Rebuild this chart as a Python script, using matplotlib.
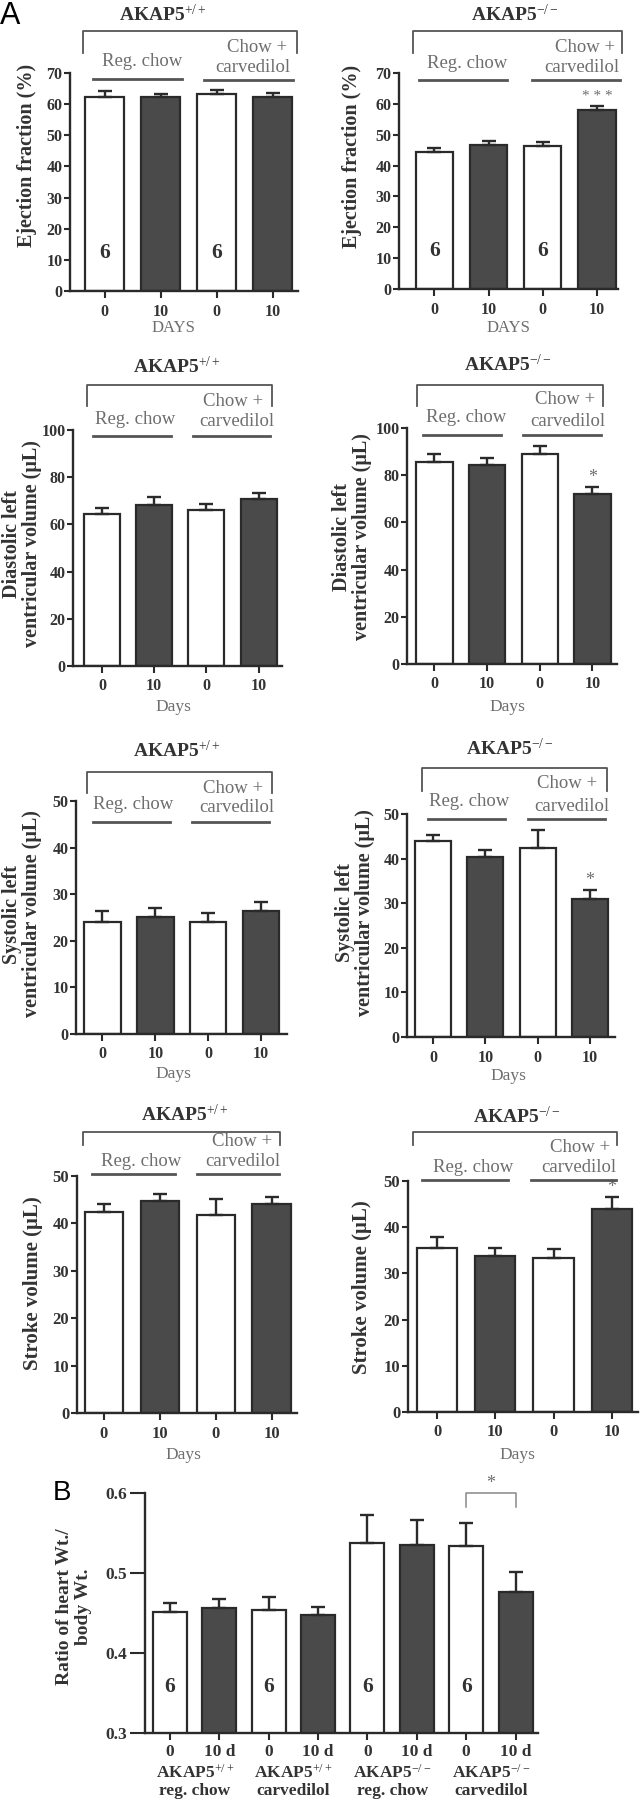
import matplotlib
matplotlib.use("Agg")
import matplotlib.pyplot as plt
from matplotlib.lines import Line2D
import numpy as np

plt.rcParams['font.family'] = ['Liberation Serif', 'DejaVu Serif']
plt.rcParams['mathtext.fontset'] = 'custom'
plt.rcParams['mathtext.rm'] = 'Liberation Serif'
plt.rcParams['mathtext.it'] = 'Liberation Serif:italic'
plt.rcParams['mathtext.bf'] = 'Liberation Serif:bold'

# ---- data ----
days = ['0', '10', '0', '10']

ef_wt = [62.4, 62.2, 63.2, 62.4]
ef_wt_err = [1.9, 1.1, 1.3, 1.2]
ef_ko = [44.5, 46.7, 46.3, 58.0]
ef_ko_err = [1.3, 1.2, 1.2, 1.3]

edv_wt = [64.2, 68.3, 66.3, 70.8]
edv_wt_err = [2.8, 3.2, 2.5, 2.6]
edv_ko = [85.4, 84.3, 88.8, 72.2]
edv_ko_err = [3.4, 3.0, 3.7, 2.8]

esv_wt = [24.0, 25.0, 24.0, 26.3]
esv_wt_err = [2.4, 2.0, 1.9, 2.1]
esv_ko = [43.9, 40.4, 42.4, 31.0]
esv_ko_err = [1.4, 1.5, 4.0, 1.9]

sv_wt = [42.3, 44.8, 41.8, 44.0]
sv_wt_err = [1.7, 1.5, 3.3, 1.5]
sv_ko = [35.4, 33.8, 33.3, 43.9]
sv_ko_err = [2.4, 1.8, 2.0, 2.6]

ratio = [0.451, 0.456, 0.454, 0.448, 0.538, 0.535, 0.534, 0.476]
ratio_err = [0.011, 0.011, 0.016, 0.009, 0.034, 0.031, 0.028, 0.025]
ratio_ticks = ['0', '10 d', '0', '10 d', '0', '10 d', '0', '10 d']
ratio_groups = ['AKAP5$^{+/+}$\nreg. chow', 'AKAP5$^{+/+}$\ncarvedilol',
                'AKAP5$^{-/-}$\nreg. chow', 'AKAP5$^{-/-}$\ncarvedilol']

WT = 'AKAP5$^{+/+}$'
KO = 'AKAP5$^{-/-}$'

# ---- style ----
W, H = 641, 1800
DARK = '#4a4a4a'
INK = '#2a2a2a'
GREY = '#6e6e6e'
bar_colors = ['white', DARK, 'white', DARK]

fig = plt.figure(figsize=(W / 100, H / 100), dpi=100)


def fx(x):
    return x / W


def fy(y):
    return 1 - y / H


def add_ax(x0, y0, x1, y1):
    return fig.add_axes([fx(x0), fy(y1), (x1 - x0) / W, (y1 - y0) / H])


def hline(x0, x1, y, lw=1.6, color=GREY):
    fig.add_artist(Line2D([fx(x0), fx(x1)], [fy(y), fy(y)], lw=lw, color=color))


def draw_bars(ax, means, errs, xlim, ylim, ystep, labels, colors, tick_size=11.5):
    x = np.arange(len(means))
    ax.bar(x, means, width=0.69, color=colors, edgecolor=INK, linewidth=1.6, zorder=2)
    ax.errorbar(x, means, yerr=[np.zeros(len(errs)), errs], fmt='none', ecolor=INK,
                elinewidth=1.7, capsize=5, capthick=1.7, zorder=3)
    ax.set_xlim(*xlim)
    ax.set_ylim(*ylim)
    ax.set_yticks(np.arange(ylim[0], ylim[1] + ystep / 2, ystep))
    ax.set_xticks(x)
    ax.set_xticklabels(labels)
    for s in ['top', 'right']:
        ax.spines[s].set_visible(False)
    for s in ['left', 'bottom']:
        ax.spines[s].set_linewidth(1.7)
        ax.spines[s].set_color(INK)
    ax.tick_params(axis='both', direction='out', width=1.5, color=INK,
                   labelsize=tick_size, labelcolor='#333333')
    ax.tick_params(axis='y', length=4, pad=1.5)
    ax.tick_params(axis='x', length=5, pad=4)
    for t in ax.get_xticklabels() + ax.get_yticklabels():
        t.set_fontweight('bold')
    return x


def header(d):
    fig.text(fx(d['title'][0]), fy(d['title'][1]), d['name'], ha='center', va='center',
             fontsize=14, fontweight='bold', color='#333333')
    bx0, bx1, bt, bb = d['bracket']
    fig.add_artist(Line2D([fx(bx0), fx(bx0), fx(bx1), fx(bx1)],
                          [fy(bb), fy(bt), fy(bt), fy(bb)], lw=1.3, color='#555555'))
    fig.text(fx(d['reg'][0]), fy(d['reg'][1]), 'Reg. chow', ha='center', va='center',
             fontsize=13.5, color=GREY)
    hline(*d['reg_line'], lw=2.0, color='#555555')
    fig.text(fx(d['chow'][0]), fy(d['chow'][1]), 'Chow +', ha='right', va='center',
             fontsize=13.5, color=GREY)
    fig.text(fx(d['carv'][0]), fy(d['carv'][1]), 'carvedilol', ha='center', va='center',
             fontsize=13.5, color=GREY)
    hline(*d['carv_line'], lw=2.0, color='#555555')
    fig.text(fx(d['xlab'][0]), fy(d['xlab'][1]), d['xlabel'], ha='center', va='center',
             fontsize=d.get('xsize', 12.5), color=GREY)
    fig.text(fx(d['ylab'][0]), fy(d['ylab'][1]), d['ylabel'], ha='center', va='center',
             rotation=90, fontsize=d.get('ysize', 14.5), fontweight='bold', color='#333333',
             linespacing=1.05, multialignment='center')


def star(ax, x, top, s, size=13):
    ax.annotate(s, (x, top), xytext=(0, 7), textcoords='offset points', ha='center',
                va='center', fontsize=size, color=GREY, annotation_clip=False)


def n_label(ax, xs, yfrac):
    for xi in xs:
        ax.text(xi, yfrac, '6', transform=ax.get_xaxis_transform(), ha='center',
                va='center', fontsize=15.5, fontweight='bold', color='#333333')


# ---- row 1: ejection fraction ----
ax = add_ax(70, 73, 298, 291)
draw_bars(ax, ef_wt, ef_wt_err, (-0.62, 3.455), (0, 70), 10, days, bar_colors)
n_label(ax, [0, 2], 0.175)
header(dict(name=WT, title=(163, 15), bracket=(83, 297, 31, 53), reg=(142, 62),
            reg_line=(93, 182, 79), chow=(287, 47), carv=(253, 68), carv_line=(204, 293, 80),
            xlabel='DAYS', xlab=(173, 328), xsize=12,
            ylabel='Ejection fraction (%)', ylab=(27, 155)))

ax = add_ax(399, 73, 618, 289)
draw_bars(ax, ef_ko, ef_ko_err, (-0.655, 3.39), (0, 70), 10, days, bar_colors)
n_label(ax, [0, 2], 0.175)
star(ax, 3, ef_ko[3] + ef_ko_err[3], '* * *', size=11)
header(dict(name=KO, title=(515, 15), bracket=(413, 622, 31, 53), reg=(467, 63),
            reg_line=(419, 507, 80), chow=(615, 47), carv=(582, 68), carv_line=(532, 620, 80),
            xlabel='DAYS', xlab=(508, 328), xsize=12,
            ylabel='Ejection fraction (%)', ylab=(352, 156)))

# ---- row 2: diastolic volume ----
ax = add_ax(73, 430, 282, 666)
draw_bars(ax, edv_wt, edv_wt_err, (-0.556, 3.45), (0, 100), 20, days, bar_colors)
header(dict(name=WT, title=(177, 367), bracket=(87, 272, 385, 406), reg=(135, 419),
            reg_line=(93, 171, 436), chow=(263, 401), carv=(237, 422), carv_line=(193, 270, 436),
            xlabel='Days', xlab=(173, 707),
            ylabel='Diastolic left\nventricular volume (μL)', ylab=(22, 544)))

ax = add_ax(407, 428, 617, 664)
draw_bars(ax, edv_ko, edv_ko_err, (-0.52, 3.465), (0, 100), 20, days, bar_colors)
star(ax, 3, edv_ko[3] + edv_ko_err[3], '*')
header(dict(name=KO, title=(508, 365), bracket=(417, 603, 385, 406), reg=(466, 418),
            reg_line=(423, 501, 435), chow=(595, 400), carv=(568, 421), carv_line=(523, 601, 435),
            xlabel='Days', xlab=(507, 707),
            ylabel='Diastolic left\nventricular volume (μL)', ylab=(352, 537)))

# ---- row 3: systolic volume ----
ax = add_ax(76, 801, 287, 1034)
draw_bars(ax, esv_wt, esv_wt_err, (-0.5, 3.49), (0, 50), 10, days, bar_colors)
header(dict(name=WT, title=(177, 751), bracket=(87, 272, 772, 793), reg=(133, 805),
            reg_line=(93, 170, 822), chow=(263, 788), carv=(237, 808), carv_line=(192, 269, 822),
            xlabel='Days', xlab=(173, 1074),
            ylabel='Systolic left\nventricular volume (μL)', ylab=(22, 914)))

ax = add_ax(407, 814, 615, 1037)
draw_bars(ax, esv_ko, esv_ko_err, (-0.5, 3.48), (0, 50), 10, days, bar_colors)
star(ax, 3, esv_ko[3] + esv_ko_err[3], '*')
header(dict(name=KO, title=(510, 749), bracket=(422, 607, 768, 791), reg=(469, 802),
            reg_line=(428, 505, 819), chow=(597, 784), carv=(572, 806), carv_line=(528, 605, 819),
            xlabel='Days', xlab=(508, 1076),
            ylabel='Systolic left\nventricular volume (μL)', ylab=(355, 913)))

# ---- row 4: stroke volume ----
ax = add_ax(77, 1176, 297, 1413)
draw_bars(ax, sv_wt, sv_wt_err, (-0.48, 3.45), (0, 50), 10, days, bar_colors, tick_size=12)
header(dict(name=WT, title=(185, 1115), bracket=(83, 280, 1132, 1145), reg=(141, 1162),
            reg_line=(92, 175, 1174), chow=(272, 1142), carv=(243, 1162), carv_line=(197, 279, 1174),
            xlabel='Days', xlab=(183, 1455),
            ylabel='Stroke volume (μL)', ylab=(33, 1283), ysize=15))

ax = add_ax(408, 1181, 638, 1412)
draw_bars(ax, sv_ko, sv_ko_err, (-0.5, 3.45), (0, 50), 10, days, bar_colors, tick_size=12)
star(ax, 3, sv_ko[3] + sv_ko_err[3], '*')
header(dict(name=KO, title=(517, 1117), bracket=(413, 617, 1132, 1145), reg=(473, 1168),
            reg_line=(422, 508, 1180), chow=(610, 1148), carv=(579, 1168), carv_line=(531, 616, 1180),
            xlabel='Days', xlab=(517, 1455),
            ylabel='Stroke volume (μL)', ylab=(362, 1287), ysize=15))

# ---- panel B: heart / body weight ----
ax = add_ax(145, 1493, 538, 1733)
xb = draw_bars(ax, ratio, ratio_err, (-0.506, 7.455), (0.3, 0.6), 0.1, ratio_ticks,
               bar_colors * 2, tick_size=12.5)
ax.tick_params(axis='y', length=11, pad=2)
ax.tick_params(axis='x', length=5, pad=3)
ax.set_yticklabels([f'{v:.1f}' for v in ax.get_yticks()], fontweight='bold')
n_label(ax, [0, 2, 4, 6], 0.19)
for i, g in enumerate(ratio_groups):
    ax.text(xb[2 * i] + 0.5, -0.2, g, transform=ax.get_xaxis_transform(), ha='center',
            va='center', fontsize=12.5, fontweight='bold', color='#333333', linespacing=1.1)
ax.plot([6, 6, 7, 7], [0.583, 0.6, 0.6, 0.583], color='#888888', lw=1.1, clip_on=False)
ax.text(6.5, 0.6125, '*', ha='center', va='center', fontsize=13, color=GREY)
fig.text(fx(74), fy(1607), 'Ratio of heart Wt./\nbody Wt.', rotation=90, ha='center',
         va='center', fontsize=14, fontweight='bold', color='#333333', linespacing=1.2)

# panel letters
fig.text(fx(0), fy(16), 'A', ha='left', va='center', fontsize=22,
         family=['Liberation Sans', 'DejaVu Sans'], color='black')
fig.text(fx(53), fy(1493), 'B', ha='left', va='center', fontsize=20,
         family=['Liberation Sans', 'DejaVu Sans'], color='black')

fig.savefig('out.png', dpi=100)
